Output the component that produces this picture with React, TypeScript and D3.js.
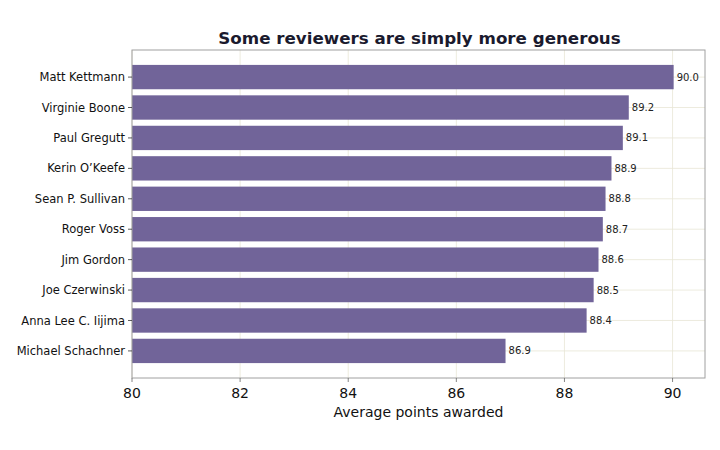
import React from "react";
import * as d3 from "d3";

const reviewers = [
  "Matt Kettmann",
  "Virginie Boone",
  "Paul Gregutt",
  "Kerin O’Keefe",
  "Sean P. Sullivan",
  "Roger Voss",
  "Jim Gordon",
  "Joe Czerwinski",
  "Anna Lee C. Iijima",
  "Michael Schachner",
];
const avgPoints = [90.02, 89.19, 89.08, 88.87, 88.76, 88.71, 88.63, 88.54, 88.41, 86.91];
const xTicks = [80, 82, 84, 86, 88, 90];

const W = 720;
const H = 450;
const M = { left: 132, right: 705, top: 50, bottom: 378 };

export default function App() {
  const x = d3.scaleLinear().domain([80, 90.6]).range([M.left, M.right]);
  const n = reviewers.length;
  const lo = -0.4, hi = n - 1 + 0.4;
  const pad = (hi - lo) * 0.05;
  const y = d3.scaleLinear().domain([lo - pad, hi + pad]).range([M.top, M.bottom]);
  const bh = y(0.8) - y(0);
  const fmt = d3.format(".1f");
  const grid = "#e8e6d6";
  const spine = "#a0a0a0";

  return (
    <svg
      width={W}
      height={H}
      style={{ position: "absolute", left: 0, top: 0, background: "#fff" }}
      fontFamily="DejaVu Sans"
    >
      <rect x={0} y={0} width={W} height={H} fill="#fff" />
      {xTicks.map((t) => (
        <line key={"gx" + t} x1={x(t)} x2={x(t)} y1={M.top} y2={M.bottom} stroke={grid} strokeWidth={0.8} />
      ))}
      {reviewers.map((r, i) => (
        <line key={"gy" + r} x1={M.left} x2={M.right} y1={y(i)} y2={y(i)} stroke={grid} strokeWidth={0.8} />
      ))}
      {reviewers.map((r, i) => (
        <rect
          key={"b" + r}
          x={x(80)}
          y={y(i) - bh / 2}
          width={x(avgPoints[i]) - x(80)}
          height={bh}
          fill="#716499"
        />
      ))}
      {reviewers.map((r, i) => (
        <text
          key={"v" + r}
          x={x(avgPoints[i]) + 3}
          y={y(i)}
          dy="0.35em"
          fontSize={10}
          fill="#222"
        >
          {fmt(avgPoints[i])}
        </text>
      ))}
      <rect x={M.left} y={M.top} width={M.right - M.left} height={M.bottom - M.top} fill="none" stroke={spine} strokeWidth={1} />
      {reviewers.map((r, i) => (
        <g key={"yt" + r}>
          <line x1={M.left - 4} x2={M.left} y1={y(i)} y2={y(i)} stroke="#333" strokeWidth={0.8} />
          <text x={M.left - 7} y={y(i)} dy="0.35em" textAnchor="end" fontSize={11.5} fill="#111">
            {r}
          </text>
        </g>
      ))}
      {xTicks.map((t) => (
        <g key={"xt" + t}>
          <line x1={x(t)} x2={x(t)} y1={M.bottom} y2={M.bottom + 4} stroke="#666" strokeWidth={0.8} />
          <text x={x(t)} y={M.bottom + 20} textAnchor="middle" fontSize={14} fill="#111">
            {t}
          </text>
        </g>
      ))}
      <text x={(M.left + M.right) / 2} y={M.bottom + 39} textAnchor="middle" fontSize={14} fill="#111">
        Average points awarded
      </text>
      <text x={(M.left + M.right) / 2 + 1} y={44} textAnchor="middle" fontSize={16.7} fontWeight="bold" fill="#1a1a2e">
        Some reviewers are simply more generous
      </text>
    </svg>
  );
}
